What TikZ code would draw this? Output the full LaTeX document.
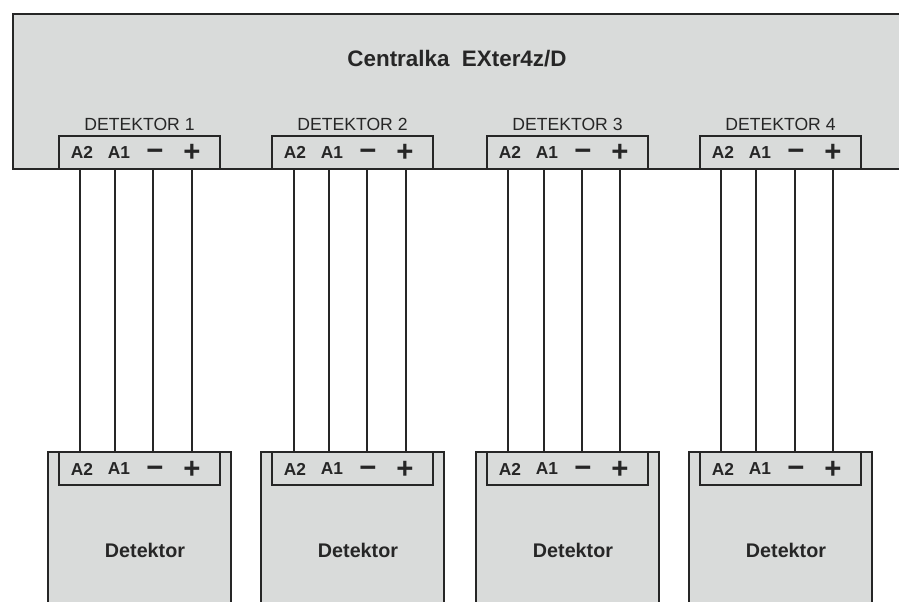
\documentclass[tikz,border=0pt]{standalone}
\usepackage{fontspec}
\setmainfont{Liberation Sans}
\usetikzlibrary{positioning}
\definecolor{panelgray}{HTML}{D9DBDA}
\definecolor{linedark}{HTML}{262626}
\tikzset{
  panel/.style={draw=linedark,fill=panelgray,line width=1.6pt,rectangle,inner sep=0pt,outer sep=0pt,anchor=north west},
  terminal/.style={panel,minimum width=120.75pt,minimum height=24.75pt},
  wire/.style={draw=linedark,line width=1.25pt},
  pinlabel/.style={font=\bfseries\fontsize{13}{15}\selectfont,text=linedark,inner sep=0pt},
  signlabel/.style={font=\bfseries\fontsize{22}{24}\selectfont,text=linedark,inner sep=0pt},
  title/.style={font=\bfseries\fontsize{16.8}{18}\selectfont,text=linedark,inner sep=0pt},
  detname/.style={font=\bfseries\fontsize{14.8}{17}\selectfont,text=linedark,inner sep=0pt},
  portname/.style={font=\fontsize{13.2}{15}\selectfont,text=linedark,inner sep=0pt}
}
\begin{document}
\begin{tikzpicture}[x=.75pt,y=-.75pt]
  \useasboundingbox (0,0) rectangle (899,601);
  \clip (0,0) rectangle (899,601);
  \node[panel,minimum width=690pt,minimum height=116.25pt] (centralka) at (13,14) {};
  \node[title] (name) at (457,59) {Centralka\ \ EXter4z/D};
  \foreach \i/\x/\wires in {1/59/{21,56,94,133},2/272/{22,57,95,134},3/487/{21,57,95,133},4/700/{21,56,95,133}}{
    % gora
    \node[terminal] (top\i) at (\x,136) {};
    \node[portname,above=3.6pt of top\i] (port\i) {DETEKTOR \i};
    \node[pinlabel] (topaa\i) at (\x+23,152.5) {A2};
    \node[pinlabel] (topab\i) at (\x+60,152.5) {A1};
    \node[signlabel] (topm\i) at (\x+96,154.5) {−};
    \node[signlabel] (topp\i) at (\x+133,152.5) {+};
    % dol
    \node[panel,minimum width=137.25pt,minimum height=120pt] (det\i) at (\x-11,452) {};
    \node[terminal] (bot\i) at (\x,452) {};
    \node[pinlabel] (botaa\i) at (\x+23,469) {A2};
    \node[pinlabel] (botab\i) at (\x+60,469) {A1};
    \node[signlabel] (botm\i) at (\x+96,472) {−};
    \node[signlabel] (botp\i) at (\x+133,470) {+};
    \node[detname] (label\i) at (\x+86,550) {Detektor};
    \foreach \dx in \wires
      \draw[wire] ([xshift=\dx*.75]top\i.south west) -- ([xshift=\dx*.75]bot\i.north west);
  }
\end{tikzpicture}
\end{document}
